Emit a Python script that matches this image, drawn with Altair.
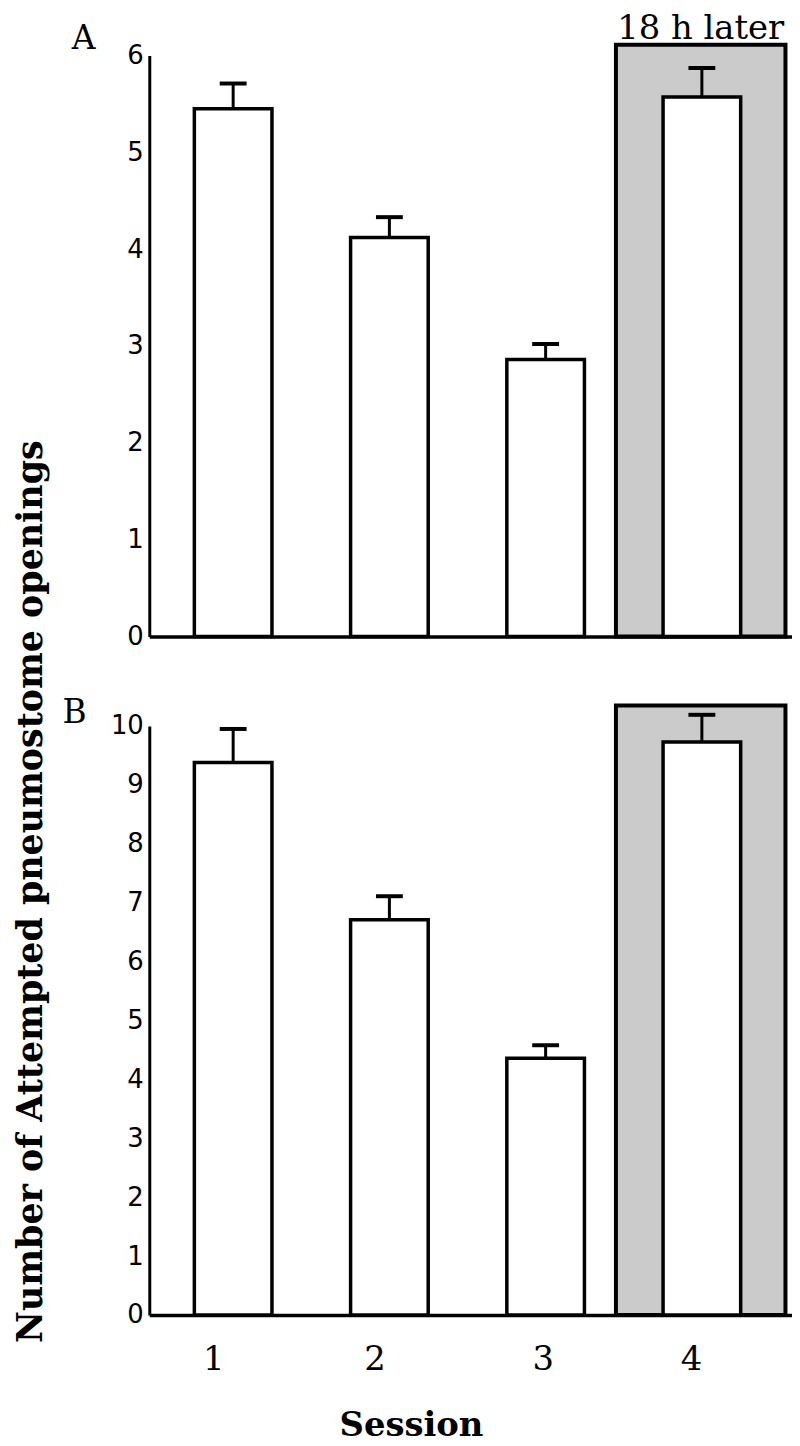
import altair as alt
import pandas as pd

# ---------------- data ----------------
sessions = [1, 2, 3, 4]

mean_a = [5.45, 4.12, 2.86, 5.57]
sem_a = [0.26, 0.21, 0.16, 0.30]

mean_b = [9.38, 6.71, 4.36, 9.73]
sem_b = [0.57, 0.40, 0.22, 0.46]

y_ticks_a = [0, 1, 2, 3, 4, 5, 6]
y_ticks_b = [0, 1, 2, 3, 4, 5, 6, 7, 8, 9, 10]
y_max_a = 6
y_max_b = 10

later_text = "18 h later"
later_start = 3.45      # session-axis extent of the shaded "18 h later" region
later_end = 4.535
later_top_a = 6.11
later_top_b = 10.35

panel_letters = ["A", "B"]
x_title = "Session"
y_title = "Number of Attempted pneumostome openings"

# ---------------- layout ----------------
X_DOMAIN = [0.495, 4.545]
PLOT_W = 646
H_A = 584
H_B = 592
SERIF = "DejaVu Serif"
SANS = "DejaVu Sans"

# per-label horizontal nudges of the session tick labels (as typeset)
x_label_offset = {
    "condition": [
        {"test": "datum.value == 1", "value": -20},
        {"test": "datum.value == 2", "value": -15},
        {"test": "datum.value == 3", "value": -3},
    ],
    "value": -11,
}


def make_panel(means, sems, ymax, yticks, box_top, letter, letter_pos,
               bottom, height, with_label):
    bars = pd.DataFrame({
        "session": sessions,
        "mean": means,
        "zero": [0] * len(sessions),
        "hi": [m + s for m, s in zip(means, sems)],
    })
    box = pd.DataFrame({
        "x": [later_start], "x2": [later_end],
        "y": [0], "y2": [box_top],
        "mid": [(later_start + later_end) / 2],
        "label": [later_text],
    })

    xscale = alt.Scale(domain=X_DOMAIN, nice=False, zero=False)
    yscale = alt.Scale(domain=[0, ymax], nice=False, zero=True)

    if bottom:
        xaxis = alt.Axis(values=sessions, format="d", ticks=False, grid=False,
                         domainColor="black", domainWidth=3.5,
                         labelFont=SERIF, labelFontSize=34, labelColor="black",
                         labelPadding=28, labelOffset=x_label_offset,
                         title=x_title, titleFont=SERIF, titleFontSize=34,
                         titleFontWeight="bold", titleColor="black",
                         titleX=263, titleY=121, titleAlign="center",
                         titleBaseline="alphabetic")
    else:
        xaxis = alt.Axis(values=sessions, labels=False, ticks=False, grid=False,
                         domainColor="black", domainWidth=3.5, title=None)

    yargs = dict(values=yticks, ticks=False, grid=False, domainColor="black",
                 domainWidth=3, labelFont=SANS, labelFontSize=26,
                 labelColor="black", labelPadding=6)
    if not bottom:
        yaxis = alt.Axis(title=y_title, titleFont=SERIF, titleFontSize=35,
                         titleFontWeight="bold", titleColor="black",
                         titleAngle=270, titleX=-108, titleY=840,
                         titleAlign="center", titleBaseline="alphabetic",
                         **yargs)
    else:
        yaxis = alt.Axis(title=None, **yargs)

    def X(field):
        return alt.X(field, type="quantitative", scale=xscale, axis=xaxis)

    def Y(field):
        return alt.Y(field, type="quantitative", scale=yscale, axis=yaxis)

    rect = alt.Chart(box).mark_rect(
        fill="#cbcbcb", stroke="black", strokeWidth=4
    ).encode(x=X("x"), x2="x2", y=Y("y"), y2="y2")

    bar = alt.Chart(bars).mark_bar(
        size=78, fill="white", stroke="black", strokeWidth=3.5, orient="vertical"
    ).encode(x=X("session"), y=Y("mean"), y2="zero")

    err = alt.Chart(bars).mark_rule(color="black", strokeWidth=3).encode(
        x=X("session"), y=Y("mean"), y2="hi")

    cap = alt.Chart(bars).mark_tick(
        orient="horizontal", size=27, thickness=4, color="black", opacity=1
    ).encode(x=X("session"), y=Y("hi"))

    letter_df = pd.DataFrame({"t": [letter]})
    letter_mark = alt.Chart(letter_df).mark_text(
        font=SERIF, fontSize=33, baseline="alphabetic", align="center",
        color="black"
    ).encode(x=alt.value(letter_pos[0]), y=alt.value(letter_pos[1]), text="t:N")

    layers = [rect, bar, err, cap, letter_mark]
    if with_label:
        lab = alt.Chart(box).mark_text(
            font=SERIF, fontSize=34, baseline="alphabetic", align="center",
            dy=-6, color="black"
        ).encode(x=X("mid"), y=Y("y2"), text="label:N")
        layers.append(lab)

    return alt.layer(*layers).properties(width=PLOT_W, height=height)


panel_a = make_panel(mean_a, sem_a, y_max_a, y_ticks_a, later_top_a,
                     panel_letters[0], (-66, -6), False, H_A, True)
panel_b = make_panel(mean_b, sem_b, y_max_b, y_ticks_b, later_top_b,
                     panel_letters[1], (-75, -3), True, H_B, False)

chart = alt.vconcat(panel_a, panel_b, spacing=90, bounds="flush").properties(
    padding={"left": 5, "top": 0, "right": 0, "bottom": 0},
    background="white",
).configure_view(stroke=None)

chart.save("out.html", embed_options={"renderer": "svg", "actions": False})
